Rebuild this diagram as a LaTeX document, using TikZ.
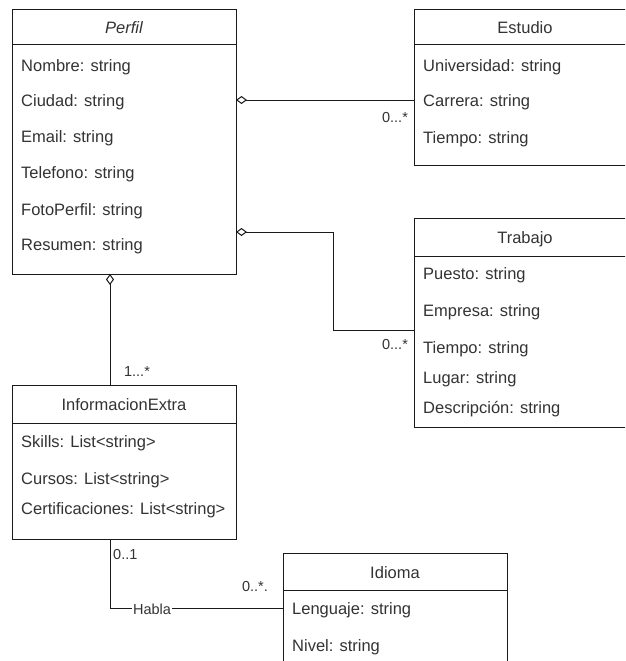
\documentclass[tikz,border=0pt]{standalone}
\usepackage{fontspec}
\setmainfont{Liberation Sans}
\usetikzlibrary{arrows.meta}
\definecolor{lc}{HTML}{1A1A1A}
\definecolor{tc}{HTML}{333333}
\begin{document}
\begin{tikzpicture}[x=1pt,y=-1pt,
  cls/.style={draw=lc, line width=1pt, anchor=north west, inner sep=0pt, outer sep=0pt},
  ttl/.style={inner sep=0pt, font=\fontsize{16.5}{19}\selectfont, text=tc, anchor=base},
  attr/.style={inner sep=0pt, font=\fontsize{16.5}{19}\selectfont, text=tc, anchor=base west},
  lbl/.style={inner sep=0pt, font=\fontsize{14.5}{17}\selectfont, text=tc, anchor=center},
  conn/.style={draw=lc, line width=1pt},
  agg/.style={conn, {Diamond[open,length=11pt,width=8pt,line width=1pt]}-}]
\useasboundingbox (0,0) rectangle (625,661);
\clip (0,0) rectangle (625,661);
\fill[white] (0,0) rectangle (625,661);

% Perfil
\node[cls, minimum width=224pt, minimum height=264pt] (perfil) at (12,10) {};
\draw[conn] (perfil.north west) ++(0,35) -- ++(224,0);
\node[ttl, font=\fontsize{16.5}{19}\selectfont\itshape] (perfilT) at (124,34) {Perfil};
\node[attr] (p1) at (21,71) {Nombre: string};
\node[attr] (p2) at (21,106) {Ciudad: string};
\node[attr] (p3) at (21,142) {Email: string};
\node[attr] (p4) at (21,178) {Telefono: string};
\node[attr] (p5) at (21,215) {FotoPerfil: string};
\node[attr] (p6) at (21,250) {Resumen: string};

% Estudio
\node[cls, minimum width=223pt, minimum height=155pt] (estudio) at (414,10) {};
\draw[conn] (estudio.north west) ++(0,35) -- ++(223,0);
\node[ttl] (estudioT) at (525,34) {Estudio};
\node[attr] (e1) at (423,71) {Universidad: string};
\node[attr] (e2) at (423,106) {Carrera: string};
\node[attr] (e3) at (423,143) {Tiempo: string};

% Trabajo
\node[cls, minimum width=223pt, minimum height=209pt] (trabajo) at (414,218) {};
\draw[conn] (trabajo.north west) ++(0,38) -- ++(223,0);
\node[ttl] (trabajoT) at (525,243) {Trabajo};
\node[attr] (t1) at (423,279) {Puesto: string};
\node[attr] (t2) at (423,316) {Empresa: string};
\node[attr] (t3) at (423,353) {Tiempo: string};
\node[attr] (t4) at (423,383) {Lugar: string};
\node[attr] (t5) at (423,413) {Descripción: string};

% InformacionExtra
\node[cls, minimum width=224pt, minimum height=154pt] (info) at (12,385) {};
\draw[conn] (info.north west) ++(0,38) -- ++(224,0);
\node[ttl] (infoT) at (124,410) {InformacionExtra};
\node[attr] (i1) at (21,447) {Skills: List<string>};
\node[attr] (i2) at (21,484) {Cursos: List<string>};
\node[attr] (i3) at (21,514) {Certificaciones: List<string>};

% Idioma
\node[cls, minimum width=224pt, minimum height=140pt] (idioma) at (283,553) {};
\draw[conn] (idioma.north west) ++(0,37) -- ++(224,0);
\node[ttl] (idiomaT) at (395,578) {Idioma};
\node[attr] (d1) at (292,614) {Lenguaje: string};
\node[attr] (d2) at (292,651) {Nivel: string};

% Connectors
\path (perfil.north east) ++(0,90) coordinate (a1);
\draw[agg] (a1) -- (a1 -| estudio.west);

\path (perfil.north east) ++(0,222) coordinate (a2);
\coordinate (b2) at (333,330);
\draw[agg] (a2) -- (a2 -| b2) -- (b2) -- (b2 -| trabajo.west);

\path (perfil.south west) ++(98,0) coordinate (a3);
\draw[agg] (a3) -- (a3 |- info.north);

\path (info.south west) ++(98,0) coordinate (a4);
\path (idioma.north west) ++(0,55) coordinate (b4);
\draw[conn] (a4) -- (a4 |- b4) -- (b4);

% Labels
\node[lbl] (l1) at (395,118) {0...*};
\node[lbl] (l2) at (395,345) {0...*};
\node[lbl] (l3) at (137,372) {1...*};
\node[lbl, anchor=west] (l4) at (113,555) {0..1};
\node[lbl] (l5) at (255,587) {0..*.};
\node[lbl, fill=white, inner sep=1pt] (l6) at (152,609) {Habla};
\end{tikzpicture}
\end{document}
